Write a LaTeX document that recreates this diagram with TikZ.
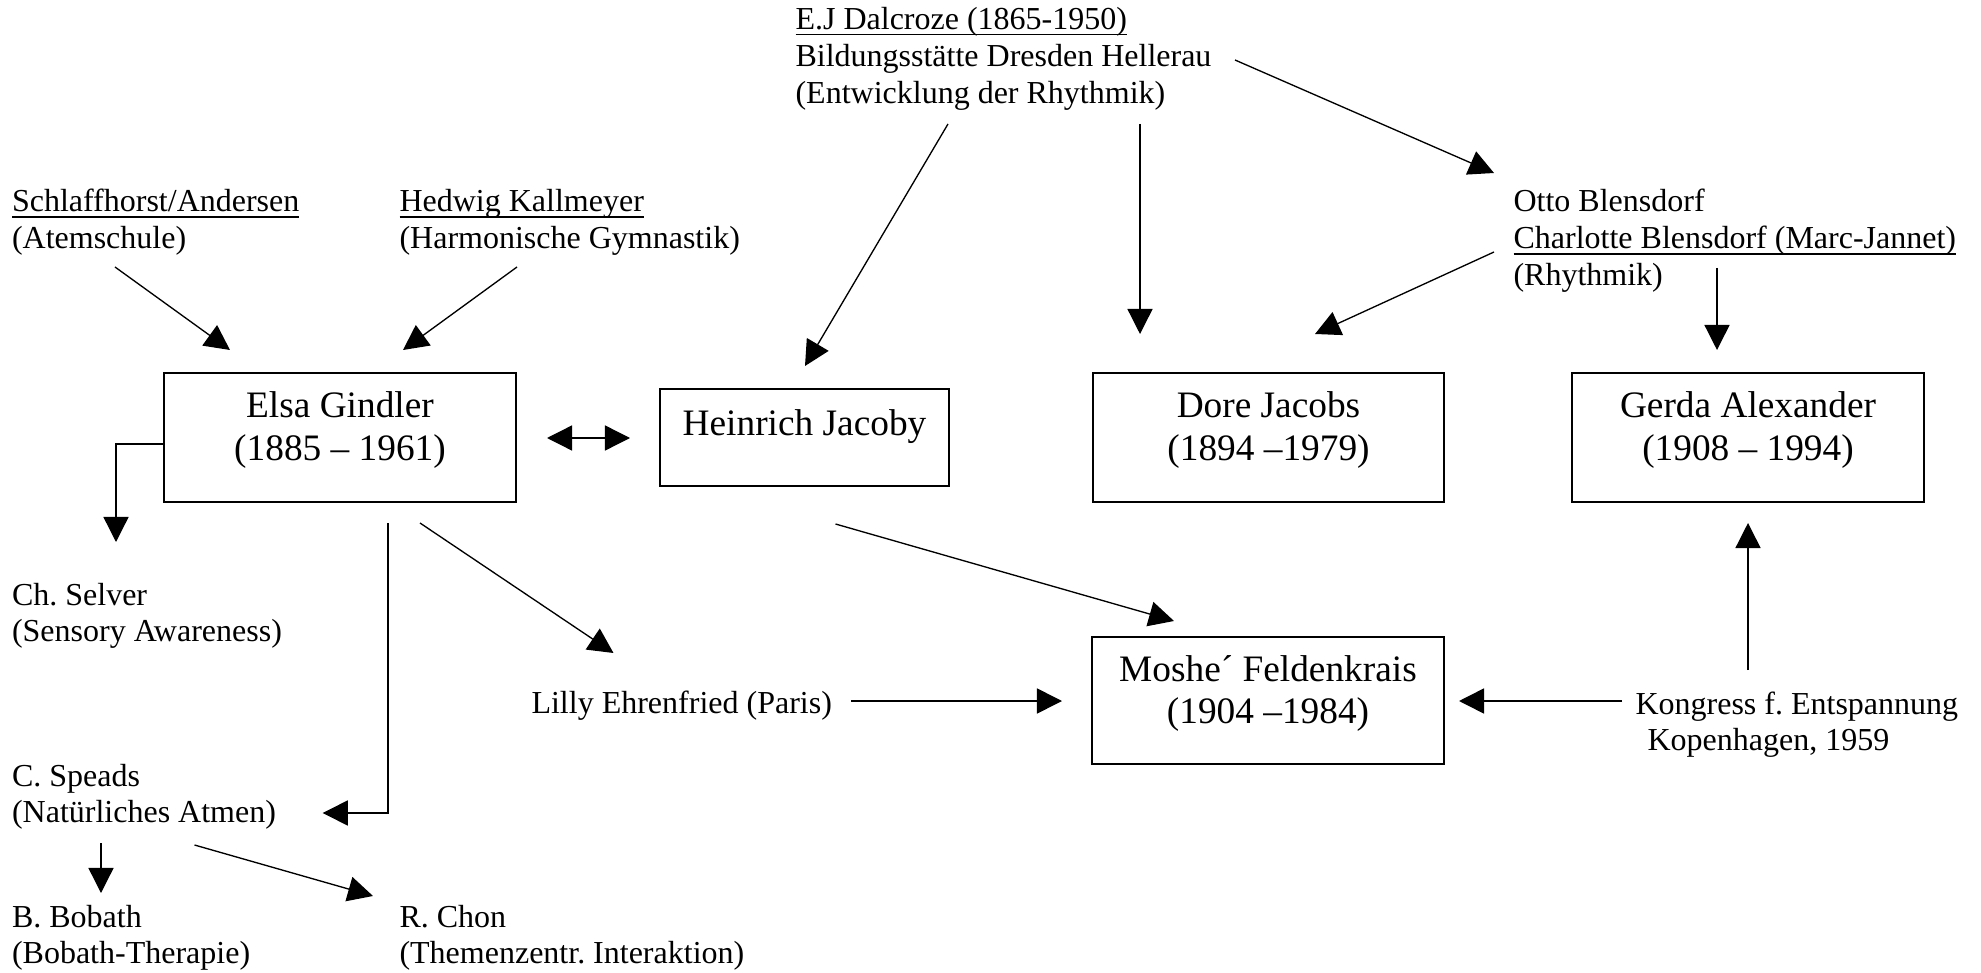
\documentclass[tikz,border=0pt]{standalone}
\usepackage{fontspec}
\setmainfont{Liberation Serif}
\usetikzlibrary{arrows.meta,fit}
\frenchspacing
\newcommand\myul[1]{\setbox0\hbox{#1}\rlap{\rule[-2.2pt]{\wd0}{0.55pt}}\box0}
\tikzset{
  lbl/.style={anchor=base west, inner sep=0pt, font={\fontsize{12}{13.8}\selectfont}},
  btxt/.style={anchor=base, inner sep=0pt, font={\fontsize{14}{16.1}\selectfont}},
  box/.style={draw, line width=0.75pt, inner sep=0pt},
  arr/.style={-{Triangle[length=9.4pt,width=9.4pt]}, line width=0.5pt},
  darr/.style={{Triangle[length=9.4pt,width=9.4pt]}-{Triangle[length=9.4pt,width=9.4pt]}, line width=0.5pt},
}
\begin{document}
\begin{tikzpicture}[x=0.375pt,y=-0.375pt]
\useasboundingbox (0,0) rectangle (1981,973);

% boxes
\node[box, fit={(164,373) (516,502)}] (gindler) {};
\node[box, fit={(660,389) (949,486)}] (jacoby) {};
\node[box, fit={(1093,373) (1444,502)}] (dore) {};
\node[box, fit={(1572,373) (1924,502)}] (gerda) {};
\node[box, fit={(1092,637) (1444,764)}] (moshe) {};

% box texts
\node[btxt] (gindlerT) at (340,418) {\begin{tabular}[t]{@{}c@{}}Elsa Gindler\\(1885 – 1961)\end{tabular}};
\node[btxt] (jacobyT) at (804.5,436) {Heinrich Jacoby};
\node[btxt] (doreT) at (1268.5,418) {\begin{tabular}[t]{@{}c@{}}Dore Jacobs\\(1894 –1979)\end{tabular}};
\node[btxt] (gerdaT) at (1748,418) {\begin{tabular}[t]{@{}c@{}}Gerda Alexander\\(1908 – 1994)\end{tabular}};
\node[btxt] (mosheT) at (1268,681) {\begin{tabular}[t]{@{}c@{}}Moshe´ Feldenkrais\\(1904 –1984)\end{tabular}};

% free texts
\node[lbl] (schlaff) at (11.5,212) {\begin{tabular}[t]{@{}l@{}}\myul{Schlaffhorst/Andersen}\\(Atemschule)\end{tabular}};
\node[lbl] (hedwig) at (399,212) {\begin{tabular}[t]{@{}l@{}}\myul{Hedwig Kallmeyer}\\(Harmonische Gymnastik)\end{tabular}};
\node[lbl] (dalcroze) at (795,29.5) {\begin{tabular}[t]{@{}l@{}}\myul{E.J Dalcroze (1865-1950)}\\Bildungsstätte Dresden Hellerau\\(Entwicklung der Rhythmik)\end{tabular}};
\node[lbl] (otto) at (1513,212) {\begin{tabular}[t]{@{}l@{}}Otto Blensdorf\\\myul{Charlotte Blensdorf (Marc-Jannet)}\\(Rhythmik)\end{tabular}};
\node[lbl] (selver) at (11.5,605) {\begin{tabular}[t]{@{}l@{}}Ch. Selver\\(Sensory Awareness)\end{tabular}};
\node[lbl] (lilly) at (531,713) {Lilly Ehrenfried (Paris)};
\node[lbl] (speads) at (11.5,786) {\begin{tabular}[t]{@{}l@{}}C. Speads\\(Natürliches Atmen)\end{tabular}};
\node[lbl] (bobath) at (11.5,927) {\begin{tabular}[t]{@{}l@{}}B. Bobath\\(Bobath-Therapie)\end{tabular}};
\node[lbl] (chon) at (399,927) {\begin{tabular}[t]{@{}l@{}}R. Chon\\(Themenzentr. Interaktion)\end{tabular}};
\node[lbl] (kongress) at (1635,714) {\begin{tabular}[t]{@{}l@{}}Kongress f. Entspannung\\\hspace{4.5pt}Kopenhagen, 1959\end{tabular}};

% connector end points
\coordinate (aS) at (115,267);   \coordinate (aE) at (230,350);
\coordinate (bS) at (517,267);   \coordinate (bE) at (403,350);
\coordinate (cS) at (948,124);   \coordinate (cE) at (805,366);
\coordinate (dS) at (1235,60);   \coordinate (dE) at (1494,173);
\coordinate (eS) at (1140,124);  \coordinate (eE) at (1140,334);
\coordinate (fS) at (1494,252);  \coordinate (fE) at (1315,334);
\coordinate (gS) at (1717,268);  \coordinate (gE) at (1717,350);
\coordinate (hS) at (547,438);   \coordinate (hE) at (630,438);
\coordinate (iS) at (164,444);   \coordinate (iM) at (116,444);  \coordinate (iE) at (116,542);
\coordinate (jS) at (388,523);   \coordinate (jM) at (388,813);  \coordinate (jE) at (322.7,813);
\coordinate (kS) at (420,523);   \coordinate (kE) at (613.5,653);
\coordinate (lS) at (835.5,524); \coordinate (lE) at (1174,621);
\coordinate (mS) at (851,701);   \coordinate (mE) at (1062,701);
\coordinate (nS) at (1622,701);  \coordinate (nE) at (1459,701);
\coordinate (oS) at (1748,670);  \coordinate (oE) at (1748,523);
\coordinate (pS) at (101,843);   \coordinate (pE) at (101,893);
\coordinate (qS) at (194.5,845); \coordinate (qE) at (373,896);

% connectors
\draw[arr] (aS) -- (aE);
\draw[arr] (bS) -- (bE);
\draw[arr] (cS) -- (cE);
\draw[arr] (dS) -- (dE);
\draw[arr] (eS) -- (eE);
\draw[arr] (fS) -- (fE);
\draw[arr] (gS) -- (gE);
\draw[darr] (hS) -- (hE);
\draw[arr] (iS) -- (iM) -- (iE);
\draw[arr] (jS) -- (jM) -- (jE);
\draw[arr] (kS) -- (kE);
\draw[arr] (lS) -- (lE);
\draw[arr, line width=0.6pt] (mS) -- (mE);
\draw[arr, line width=0.6pt] (nS) -- (nE);
\draw[arr] (oS) -- (oE);
\draw[arr] (pS) -- (pE);
\draw[arr] (qS) -- (qE);
\end{tikzpicture}
\end{document}
